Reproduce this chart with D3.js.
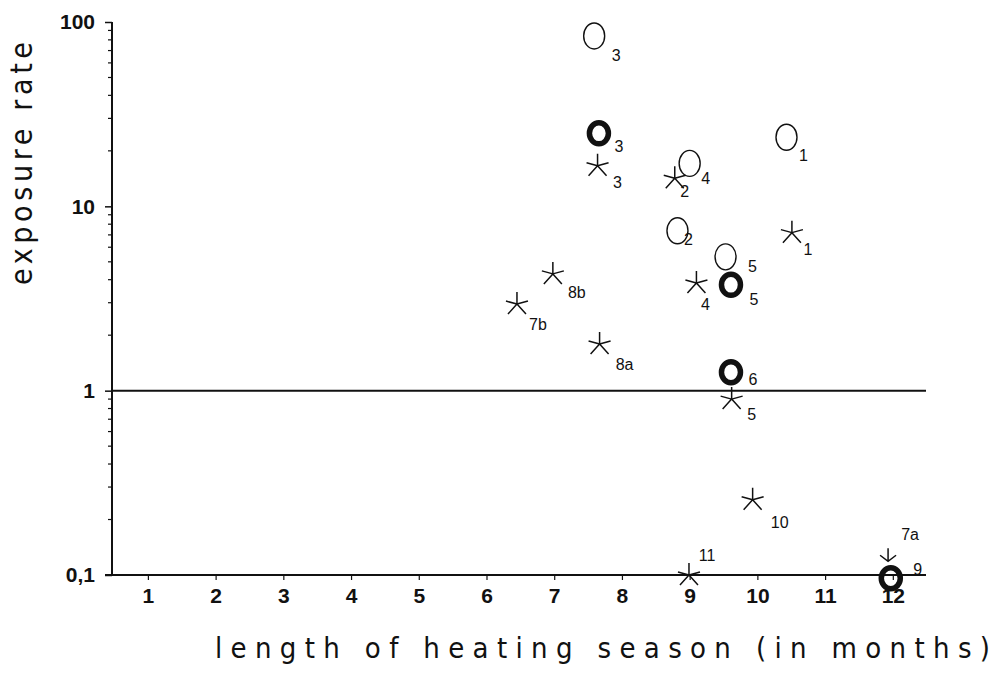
<!DOCTYPE html>
<html><head><meta charset="utf-8">
<script src="https://cdn.jsdelivr.net/npm/d3@7"></script>
<style>
html,body{margin:0;padding:0;background:#fff;}
svg{display:block;}
</style></head>
<body>
<script>
// ---- data ----
const xTicks = [1,2,3,4,5,6,7,8,9,10,11,12];
const yTicks = [0.1, 1, 10, 100];
const yTickLabels = ["0,1", "1", "10", "100"];

const openIds = ["3","1","4","2","5"];
const openX   = [7.59, 10.43, 9.0, 8.82, 9.53];
const openY   = [84, 23.7, 17.1, 7.37, 5.32];

const boldIds = ["3","5","6","9"];
const boldX   = [7.66, 9.61, 9.61, 11.97];
const boldY   = [24.9, 3.75, 1.26, 0.096];

const starIds = ["3","2","1","4","8b","7b","8a","5","10","11"];
const starX   = [7.64, 8.78, 10.51, 9.1, 6.98, 6.45, 7.67, 9.62, 9.93, 8.99];
const starY   = [16.6, 14.2, 7.2, 3.84, 4.3, 2.95, 1.79, 0.90, 0.256, 0.1];

const arrowIds = ["7a"];
const arrowX   = [11.93];
const arrowY   = [0.128];

const refLine = 1;

// ---- layout (label offsets, px) ----
const openLab  = [[22,25],[17,24],[16,21],[11,14],[27,15]];
const boldLab  = [[20,19],[23,20],[22,13],[27,-3]];
const starLab  = [[20,22],[10,19],[16,22],[9,27],[24,24],[21,26],[25,26],[20,21],[27,28],[18,-14]];
const arrowLab = [[22,-15]];

const W = 997, H = 675;
const svg = d3.select("body").append("svg").attr("width", W).attr("height", H);

const x = d3.scaleLinear().domain([0.47, 12.49]).range([112, 926]);
const y = d3.scaleLog().domain([0.1, 100]).range([575, 22]);

const ink = "#111";

// x axis
const xAxis = d3.axisBottom(x).tickValues(xTicks).tickSize(5).tickPadding(8).tickFormat(d3.format("d"));
const gx = svg.append("g").attr("transform", `translate(0,${y(0.1)})`).call(xAxis);
gx.select(".domain").attr("d", `M105,0H${x(12.49)}`).attr("stroke", ink).attr("stroke-width", 2);
gx.selectAll(".tick line").attr("stroke", ink).attr("stroke-width", 1.2);
gx.selectAll(".tick text").attr("fill", ink)
  .style("font-family", "'Liberation Sans', Arial, sans-serif")
  .style("font-weight", "bold").style("font-size", "21px");

// y axis
const yAxis = d3.axisLeft(y).tickValues(yTicks).tickSize(7).tickPadding(10)
  .tickFormat((d, i) => yTickLabels[i]);
const gy = svg.append("g").attr("transform", `translate(${x(0.47)},0)`).call(yAxis);
gy.select(".domain").attr("d", `M0,${y(100)}V${y(0.1)}`).attr("stroke", ink).attr("stroke-width", 2);
gy.selectAll(".tick line").attr("stroke", ink).attr("stroke-width", 1.5);
gy.selectAll(".tick text").attr("fill", ink)
  .style("font-family", "'Liberation Sans', Arial, sans-serif")
  .style("font-weight", "bold").style("font-size", "21px");

// minor ticks on y
const minor = [];
[0.1, 1, 10].forEach(b => { for (let k = 2; k <= 9; k++) minor.push(b * k); });
gy.selectAll(".minor").data(minor).enter().append("line")
  .attr("x1", -4).attr("x2", 0).attr("y1", d => y(d)).attr("y2", d => y(d))
  .attr("stroke", ink).attr("stroke-width", 1.2);

// reference line at 1
svg.append("line").attr("x1", x(0.47)).attr("x2", x(12.49))
  .attr("y1", y(refLine)).attr("y2", y(refLine)).attr("stroke", ink).attr("stroke-width", 2);

// axis titles
svg.append("text").text("length of heating season (in months)")
  .attr("x", 215).attr("y", 658)
  .attr("textLength", 775).attr("lengthAdjust", "spacing")
  .style("font-family", "'DejaVu Sans Condensed', 'Liberation Sans Narrow', 'DejaVu Sans', sans-serif")
  .style("font-size", "29px").attr("fill", ink);

svg.append("text").text("exposure rate")
  .attr("transform", "translate(32,285) rotate(-90)")
  .attr("textLength", 243).attr("lengthAdjust", "spacing")
  .style("font-family", "'DejaVu Sans Condensed', 'Liberation Sans Narrow', 'DejaVu Sans', sans-serif")
  .style("font-size", "30px").attr("fill", ink);

const labFont = "'Liberation Sans', Arial, sans-serif";
function addLabels(ids, xs, ys, offs) {
  svg.append("g").selectAll("text").data(ids).enter().append("text")
    .text(d => d)
    .attr("x", (d, i) => x(xs[i]) + offs[i][0])
    .attr("y", (d, i) => y(ys[i]) + offs[i][1])
    .attr("text-anchor", "middle")
    .style("font-family", labFont).style("font-size", "16px").attr("fill", ink);
}

// open circles
svg.append("g").selectAll("ellipse").data(openIds).enter().append("ellipse")
  .attr("cx", (d, i) => x(openX[i])).attr("cy", (d, i) => y(openY[i]))
  .attr("rx", 10.5).attr("ry", 13)
  .attr("fill", "none").attr("stroke", ink).attr("stroke-width", 1.4);
addLabels(openIds, openX, openY, openLab);

// bold circles
svg.append("g").selectAll("ellipse").data(boldIds).enter().append("ellipse")
  .attr("cx", (d, i) => x(boldX[i])).attr("cy", (d, i) => y(boldY[i]))
  .attr("rx", 9.5).attr("ry", 10.5)
  .attr("fill", "none").attr("stroke", ink).attr("stroke-width", 5.5);
addLabels(boldIds, boldX, boldY, boldLab);

// stars (5-armed asterisk)
const starPath = "M0,0V-12 M0,0L11,-3 M0,0L-11,-3 M0,0L9,10 M0,0L-9,10";
svg.append("g").selectAll("path").data(starIds).enter().append("path")
  .attr("transform", (d, i) => `translate(${x(starX[i])},${y(starY[i])})`)
  .attr("d", starPath).attr("fill", "none").attr("stroke", ink).attr("stroke-width", 1.5);
addLabels(starIds, starX, starY, starLab);

// arrow marker
const arrowPath = "M0,-7V6 M-8,0L0,6L8,0";
svg.append("g").selectAll("path").data(arrowIds).enter().append("path")
  .attr("transform", (d, i) => `translate(${x(arrowX[i])},${y(arrowY[i])})`)
  .attr("d", arrowPath).attr("fill", "none").attr("stroke", ink).attr("stroke-width", 1.5);
addLabels(arrowIds, arrowX, arrowY, arrowLab);
</script>
</body></html>
